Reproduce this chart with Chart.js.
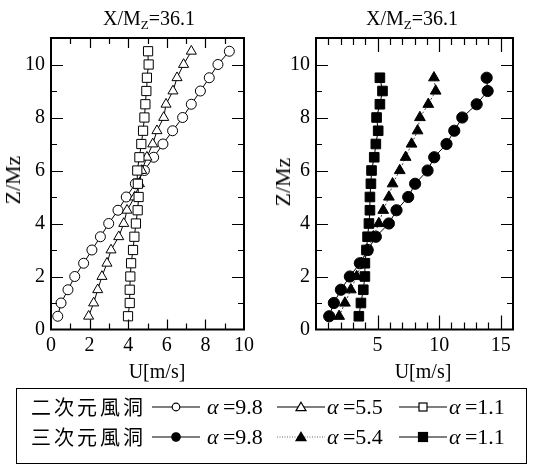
<!DOCTYPE html>
<html><head><meta charset="utf-8">
<script src="https://cdn.jsdelivr.net/npm/chart.js@4.4.1/dist/chart.umd.min.js"></script>
<style>
html,body{margin:0;padding:0;background:#fff;}
#wrap{position:relative;width:537px;height:467px;overflow:hidden;font-family:'Liberation Serif','Times New Roman',serif;color:#000;}
canvas{position:absolute;top:0;}
.t{position:absolute;white-space:nowrap;line-height:1;}
.title{font-size:20px;transform:translateX(-50%);}
.title sub{font-size:13px;vertical-align:-4px;line-height:0;}
.ytl{font-size:22px;transform:translate(-50%,-50%) rotate(-90deg);}
.xtl{font-size:20px;transform:translate(-50%,-50%);}
#legend{position:absolute;left:16px;top:388px;width:511px;height:76px;border:1.5px solid #000;box-sizing:border-box;}
.jp{font-family:'Noto Sans CJK JP','Noto Sans CJK SC',sans-serif;font-size:20px;letter-spacing:3px;transform:translateY(-50%);}
.lab{font-size:22px;transform:translateY(-50%);}
.lab i{font-style:italic;}
svg.s{position:absolute;transform:translateY(-50%);overflow:visible;}
</style></head>
<body><div id="wrap">
<canvas id="c1" width="268" height="370" style="left:0"></canvas>
<canvas id="c2" width="269" height="370" style="left:268px"></canvas>
<div class="t title" style="left:149px;top:8px">X/M<sub>Z</sub>=36.1</div>
<div class="t title" style="left:412px;top:8px">X/M<sub>Z</sub>=36.1</div>
<div class="t ytl" style="left:13px;top:180px">Z/Mz</div>
<div class="t ytl" style="left:283px;top:182px">Z/Mz</div>
<div class="t xtl" style="left:157px;top:371px">U[m/s]</div>
<div class="t xtl" style="left:423px;top:371px">U[m/s]</div>
<div id="legend"></div>
<div id="legtext"></div>
</div>
<script>
// ---- data ----
const zLeft  = [0.5,1,1.5,2,2.5,3,3.5,4,4.5,5,5.5,6,6.5,7,7.5,8,8.5,9,9.5,10,10.5];
const u2d_98 = [0.35,0.52,0.88,1.23,1.69,2.12,2.56,2.99,3.47,3.9,4.37,4.84,5.32,5.8,6.3,6.82,7.27,7.74,8.2,8.65,9.24];
const u2d_55 = [1.95,2.21,2.42,2.64,2.9,3.11,3.51,3.77,3.94,4.34,4.58,4.7,4.97,5.27,5.49,5.84,5.96,6.32,6.53,6.87,7.27];
const u2d_11 = [3.99,4.08,4.08,4.11,4.15,4.25,4.32,4.4,4.49,4.54,4.5,4.47,4.58,4.68,4.77,4.84,4.89,4.94,4.97,5.06,5.03];

const zRight = [0.5,1,1.5,2,2.5,3,3.5,4,4.5,5,5.5,6,6.5,7,7.5,8,8.5,9,9.5];
const u3d_98 = [1.07,1.45,2.02,2.75,3.56,4.2,4.86,5.92,6.54,7.49,8.05,9.06,9.6,10.6,11.23,11.88,13.05,13.94,13.86];
const u3d_54 = [1.88,2.35,2.83,3.3,3.7,4.16,4.65,5.1,5.46,5.92,6.22,6.8,7.28,7.76,8.25,8.44,9.12,9.72,9.58];
const u3d_11 = [3.48,3.65,3.84,3.97,3.97,4.1,4.19,4.3,4.38,4.38,4.46,4.51,4.73,4.86,5.05,4.92,5.19,5.4,5.19];

const leftXTicks  = [0,2,4,6,8,10];
const rightXTicks = [5,10,15];
const yTicks      = [0,2,4,6,8,10];

const legendRows = ['二次元風洞','三次元風洞'];
const legendLabels = [['9.8','5.5','1.1'],['9.8','5.4','1.1']];

// ---- helpers ----
const pts = (xs, ys) => xs.map((x,i)=>({x:x, y:ys[i]}));
const FONT = {family:"'Liberation Serif','Times New Roman',serif", size:20};

const frameTicks = {
  id:'frameTicks',
  afterDraw(chart, args, o){
    const {ctx, chartArea:a, scales:{x, y}} = chart;
    ctx.save();
    ctx.strokeStyle = '#000';
    ctx.lineWidth = 1.2;
    ctx.beginPath();
    for (let v = x.min; v <= x.max + 1e-9; v += o.xMinorStep){
      if (v <= x.min + 1e-9 || v >= x.max - 1e-9) continue;
      const px = Math.round(x.getPixelForValue(v)) + 0.5;
      const L = o.xMajor.includes(v) ? o.xMajorLen : o.xMinorLen;
      ctx.moveTo(px, a.bottom); ctx.lineTo(px, a.bottom - L);
      ctx.moveTo(px, a.top); ctx.lineTo(px, a.top + L);
    }
    for (let v = y.min; v <= y.max + 1e-9; v += 1){
      if (v <= y.min + 1e-9 || v >= y.max - 1e-9) continue;
      const py = Math.round(y.getPixelForValue(v)) + 0.5;
      const L = (v % 2 === 0) ? o.yMajorLen : o.yMinorLen;
      ctx.moveTo(a.left, py); ctx.lineTo(a.left + L, py);
      ctx.moveTo(a.right, py); ctx.lineTo(a.right - L, py);
    }
    ctx.stroke();
    ctx.lineWidth = 2;
    ctx.strokeRect(a.left, a.top, a.right - a.left, a.bottom - a.top);
    ctx.restore();
  }
};

function makeChart(id, datasets, xmax, xTicks, yWidth, rightPad, tickOpts){
  return new Chart(document.getElementById(id), {
    type:'scatter',
    data:{datasets},
    plugins:[frameTicks],
    options:{
      responsive:false, animation:false, devicePixelRatio:1,
      layout:{padding:{top:38, right:rightPad, left:0, bottom:0}},
      plugins:{legend:{display:false}, tooltip:{enabled:false}, frameTicks:tickOpts},
      scales:{
        x:{type:'linear', min:0, max:xmax,
           grid:{display:false, drawTicks:false}, border:{display:false},
           ticks:{font:FONT, color:'#000', padding:4, maxRotation:0, autoSkip:false},
           afterBuildTicks:s=>{ s.ticks = xTicks.map(v=>({value:v})); },
           afterFit:s=>{ s.height = 40.5; }},
        y:{type:'linear', min:0, max:11,
           grid:{display:false, drawTicks:false}, border:{display:false},
           ticks:{font:FONT, color:'#000', padding:6, autoSkip:false},
           afterBuildTicks:s=>{ s.ticks = yTicks.map(v=>({value:v})); },
           afterFit:s=>{ s.width = yWidth; }}
      }
    }
  });
}

const line = {showLine:true, borderColor:'#000', borderWidth:1, pointBorderWidth:1, pointBorderColor:'#000'};

makeChart('c1', [
  {...line, data:pts(u2d_11, zLeft), pointStyle:'rect', pointRadius:6.5, pointBackgroundColor:'#fff'},
  {...line, data:pts(u2d_55, zLeft), pointStyle:'triangle', pointRadius:5.8, pointBackgroundColor:'#fff'},
  {...line, data:pts(u2d_98, zLeft), pointStyle:'circle', pointRadius:5, pointBackgroundColor:'#fff'},
], 10, leftXTicks, 51, 24,
  {xMinorStep:1, xMajor:leftXTicks, xMajorLen:10, xMinorLen:6, yMajorLen:12, yMinorLen:6});

makeChart('c2', [
  {...line, data:pts(u3d_54, zRight), pointStyle:'triangle', pointRadius:6.2, pointBackgroundColor:'#000', borderColor:'#444', borderDash:[2,2]},
  {...line, data:pts(u3d_98, zRight), pointStyle:'circle', pointRadius:5.6, pointBackgroundColor:'#000'},
  {...line, data:pts(u3d_11, zRight), pointStyle:'rect', pointRadius:6.8, pointBackgroundColor:'#000'},
], 16, rightXTicks, 48, 24,
  {xMinorStep:1, xMajor:rightXTicks, xMajorLen:14, xMinorLen:7, yMajorLen:12, yMinorLen:6});

// ---- legend (HTML text + small SVG samples) ----
(function(){
  const wrap = document.getElementById('wrap');
  const rowY = [407, 437];
  const sampleX = [152, 277, 399];
  const labelX = [207, 327, 449];
  const shapes = ['circle','triangle','rect'];
  function marker(shape, filled){
    const f = filled ? '#000' : '#fff';
    if (shape==='circle') return `<circle cx="24" cy="6" r="${filled?4.2:3.8}" fill="${f}" stroke="#000" stroke-width="1.2"/>`;
    if (shape==='triangle') return `<polygon points="24,1.2 29,9.6 19,9.6" fill="${f}" stroke="#000" stroke-width="1.2"/>`;
    return `<rect x="${filled?19.5:20}" y="${filled?1.5:2}" width="${filled?9:8}" height="${filled?9:8}" fill="${f}" stroke="#000" stroke-width="1.2"/>`;
  }
  legendRows.forEach((name, r)=>{
    const n = document.createElement('div');
    n.className='t jp'; n.style.left='31px'; n.style.top=rowY[r]+'px'; n.textContent=name;
    wrap.appendChild(n);
    shapes.forEach((sh, k)=>{
      const dotted = (r===1 && k===1);
      const s = document.createElementNS('http://www.w3.org/2000/svg','svg');
      s.setAttribute('class','s'); s.setAttribute('width','48'); s.setAttribute('height','12');
      s.style.left = sampleX[k]+'px'; s.style.top = rowY[r]+'px';
      s.innerHTML = `<line x1="0" y1="6" x2="48" y2="6" stroke="${dotted?'#666':'#000'}" stroke-width="${dotted?1:1.2}" ${dotted?'stroke-dasharray="1,1.5"':''}/>` + marker(sh, r===1);
      wrap.appendChild(s);
      const l = document.createElement('div');
      l.className='t lab'; l.style.left=labelX[k]+'px'; l.style.top=rowY[r]+'px';
      l.innerHTML = '<i>α</i>&#8201;=' + legendLabels[r][k];
      wrap.appendChild(l);
    });
  });
})();
</script>
</body></html>
